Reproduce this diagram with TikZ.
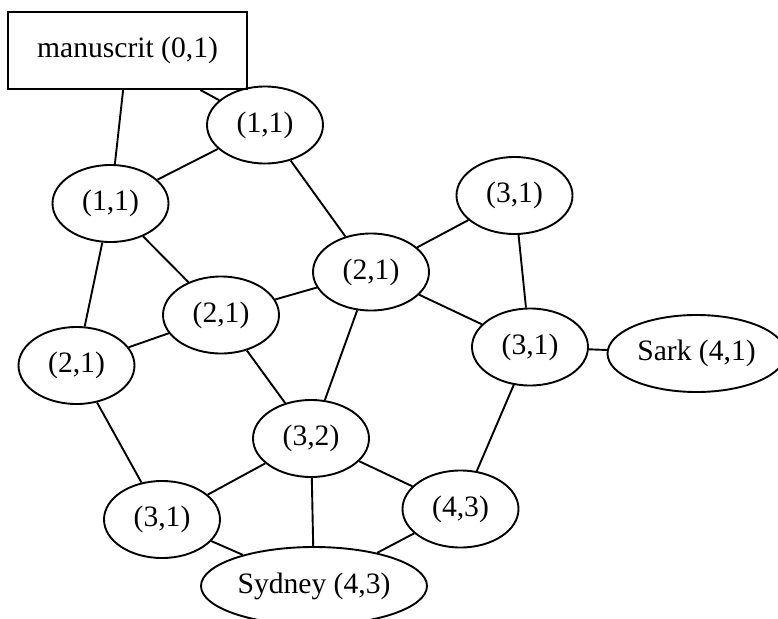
\documentclass[tikz,border=0pt]{standalone}
\usepackage{fontspec}
\setmainfont{Liberation Serif}
\usetikzlibrary{shapes.geometric}
\begin{document}
\begin{tikzpicture}[x=1pt,y=-1pt,
  every node/.style={font=\fontsize{29.6}{35}\selectfont, line width=1.9pt, draw, inner sep=0pt},
  ell/.style={ellipse, minimum width=116pt, minimum height=77pt},
  box/.style={rectangle, minimum width=239pt, minimum height=77pt},
  edge/.style={line width=1.9pt}]
\useasboundingbox (0,0) rectangle (778,618);
\node[box] (m) at (127.5,50.5) {manuscrit (0,1)};
\node[ell] (a) at (265,125) {(1,1)};
\node[ell] (b) at (110.5,203.5) {(1,1)};
\node[ell] (c) at (514.5,195.5) {(3,1)};
\node[ell] (d) at (371,272) {(2,1)};
\node[ell] (e) at (221,315) {(2,1)};
\node[ell] (f) at (76.5,365.5) {(2,1)};
\node[ell] (g) at (530,347) {(3,1)};
\node[ell, minimum width=178pt] (s) at (696.5,353.5) {Sark (4,1)};
\node[ell] (h) at (311,438.5) {(3,2)};
\node[ell] (i) at (162,519.5) {(3,1)};
\node[ell] (j) at (460.5,509) {(4,3)};
\node[ell, minimum width=226pt, minimum height=78pt] (y) at (314,586) {Sydney (4,3)};
\draw[edge] (m) -- (b);
\draw[edge] (m) -- (a);
\draw[edge] (a) -- (b);
\draw[edge] (a) -- (d);
\draw[edge] (b) -- (f);
\draw[edge] (b) -- (e);
\draw[edge] (e) -- (d);
\draw[edge] (f) -- (e);
\draw[edge] (d) -- (c);
\draw[edge] (d) -- (g);
\draw[edge] (c) -- (g);
\draw[edge] (g) -- (s);
\draw[edge] (d) -- (h);
\draw[edge] (e) -- (h);
\draw[edge] (f) -- (i);
\draw[edge] (h) -- (i);
\draw[edge] (h) -- (y);
\draw[edge] (h) -- (j);
\draw[edge] (g) -- (j);
\draw[edge] (i) -- (y);
\draw[edge] (j) -- (y);
\end{tikzpicture}
\end{document}
